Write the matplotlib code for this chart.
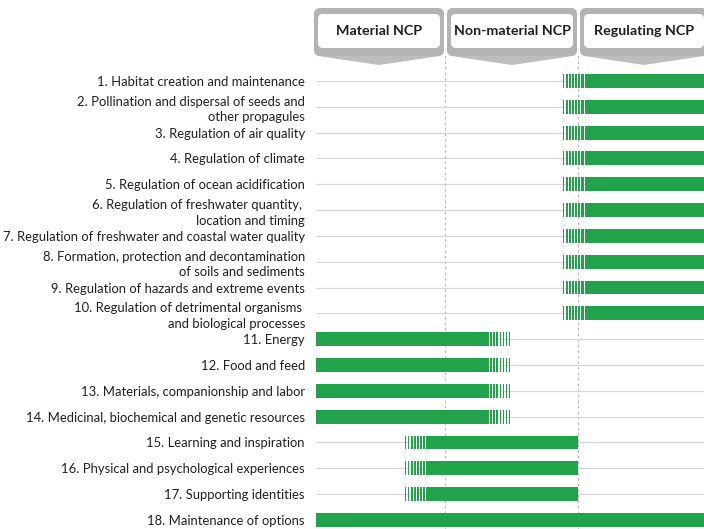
import numpy as np
import matplotlib
matplotlib.use("Agg")
import matplotlib.pyplot as plt
from matplotlib.patches import FancyBboxPatch, Polygon

plt.rcParams['font.family'] = ['Lato', 'DejaVu Sans']

labels = [
    "1. Habitat creation and maintenance",
    "2. Pollination and dispersal of seeds and\nother propagules",
    "3. Regulation of air quality",
    "4. Regulation of climate",
    "5. Regulation of ocean acidification",
    "6. Regulation of freshwater quantity, \nlocation and timing",
    "7. Regulation of freshwater and coastal water quality",
    "8. Formation, protection and decontamination\nof soils and sediments",
    "9. Regulation of hazards and extreme events",
    "10. Regulation of detrimental organisms \nand biological processes",
    "11. Energy",
    "12. Food and feed",
    "13. Materials, companionship and labor",
    "14. Medicinal, biochemical and genetic resources",
    "15. Learning and inspiration",
    "16. Physical and psychological experiences",
    "17. Supporting identities",
    "18. Maintenance of options",
]
# columns: material 0-1, non-material 1-2, regulating 2-3
solid_start = [2.05] * 10 + [0.03] * 4 + [0.86] * 3 + [0.03]
solid_end = [3.0] * 10 + [1.33] * 4 + [2.0] * 3 + [3.0]
fade_side = ['left'] * 10 + ['right'] * 4 + ['left'] * 3 + [None]
categories = ["Material NCP", "Non-material NCP", "Regulating NCP"]

green = '#22a24a'
W, H = 704, 529
fig = plt.figure(figsize=(W / 100, H / 100), dpi=100)

top_px = 68
ax = fig.add_axes([316 / W, 0, 1 - 316 / W, (H - top_px) / H])
ax.set_xlim(0.03, 2.947)
ax.set_ylim(18.35, 0.5)
rows = np.arange(1, len(labels) + 1)

for y in rows:
    ax.plot([0.03, 3], [y, y], color='#d6d6d6', lw=0.9, zorder=1)
for xd in [1, 2]:
    ax.plot([xd, xd], [18.5, 0.0], color='#b0b0b0', lw=0.8, ls=(0, (2, 3)),
            zorder=0.5, clip_on=False)

bh = 0.54
fade_len = 0.17
n_str = 7
for y, s, e, side in zip(rows, solid_start, solid_end, fade_side):
    ax.broken_barh([(s, e - s)], (y - bh / 2, bh), facecolors=green, zorder=2)
    if side is None:
        continue
    p = fade_len / n_str
    segs = []
    for k in range(n_str):
        w = p * (0.75 - 0.45 * k / n_str)
        if side == 'right':
            segs.append((e + k * p + p * 0.3, w))
        else:
            segs.append((s - (k + 1) * p - p * 0.3 + (p - w), w))
    ax.broken_barh(segs, (y - bh / 2, bh), facecolors=green, zorder=2)

ax.set_yticks(rows)
ax.set_yticklabels(labels, fontsize=9.4, color='#231f20', linespacing=1.35)
ax.tick_params(axis='y', length=0, pad=8)
ax.set_xticks([])
for sp in ax.spines.values():
    sp.set_visible(False)

# header tabs
hx = fig.add_axes([0, 0, 1, 1], zorder=5)
hx.set_xlim(0, W)
hx.set_ylim(H, 0)
hx.axis('off')
tabs = [(314, 444), (447, 577), (580, 708)]
for (x0, x1), name in zip(tabs, categories):
    xc = (x0 + x1) / 2
    hx.add_patch(Polygon([(x0 + 1, 48), (x1 - 1, 48), (x1 - 4, 56), (xc, 65),
                          (x0 + 4, 56)],
                         closed=True, fc='#bdbdbd', ec='none'))
    hx.add_patch(FancyBboxPatch((x0 + 6, 14), x1 - x0 - 12, 36,
                                boxstyle='round,pad=6', fc='#b3b3b3', ec='none'))
    hx.add_patch(FancyBboxPatch((x0 + 9, 19), x1 - x0 - 18, 24,
                                boxstyle='round,pad=5', fc='white', ec='none'))
    hx.text(xc, 31, name, ha='center', va='center', fontsize=10.3,
            fontweight='bold', color='#231f20')

fig.savefig('out.png', dpi=100)
